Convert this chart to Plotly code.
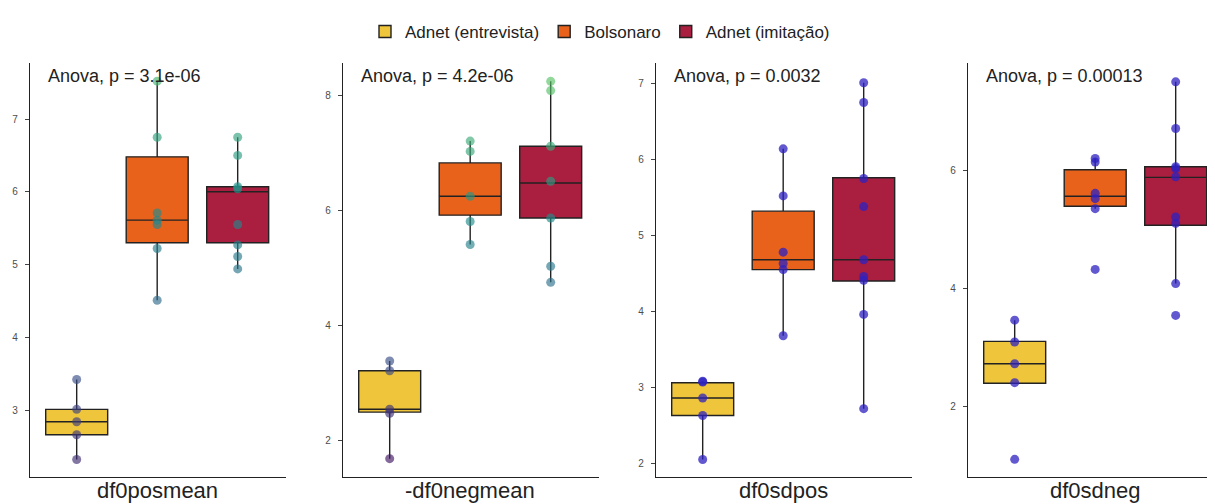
import plotly.graph_objects as go

# ---------------- data ----------------
panels = ["df0posmean", "-df0negmean", "df0sdpos", "df0sdneg"]
anova_p = ["3.1e-06", "4.2e-06", "0.0032", "0.00013"]
groups = ["Adnet (entrevista)", "Bolsonaro", "Adnet (imitação)"]

# raw points per panel, per group
pts_posmean = [[2.32, 2.66, 2.84, 3.01, 3.42],
               [4.51, 5.22, 5.55, 5.61, 5.71, 6.75, 7.52],
               [4.94, 5.11, 5.27, 5.55, 6.04, 6.07, 6.50, 6.75]]
pts_negmean = [[1.68, 2.47, 2.54, 3.21, 3.38],
               [5.41, 5.81, 6.25, 7.03, 7.21],
               [4.75, 5.03, 5.87, 6.51, 7.12, 8.09, 8.25]]
pts_sdpos = [[2.05, 2.63, 2.86, 3.07, 3.08],
             [3.68, 4.55, 4.63, 4.78, 5.52, 6.14],
             [2.72, 3.96, 4.41, 4.46, 4.68, 5.38, 5.75, 6.75, 7.01]]
pts_sdneg = [[1.11, 2.41, 2.73, 3.10, 3.47],
             [4.33, 5.36, 5.53, 5.62, 6.15, 6.21],
             [3.55, 4.09, 5.11, 5.22, 5.90, 6.04, 6.07, 6.72, 7.51]]

# box stats: [q1, median, q3, lower whisker, upper whisker] per group
box_posmean = [[2.66, 2.84, 3.01, 2.32, 3.42],
               [5.30, 5.61, 6.48, 4.51, 7.52],
               [5.30, 6.00, 6.07, 4.94, 6.75]]
box_negmean = [[2.49, 2.54, 3.21, 1.68, 3.38],
               [5.92, 6.25, 6.83, 5.41, 7.21],
               [5.87, 6.48, 7.12, 4.75, 8.25]]
box_sdpos = [[2.63, 2.86, 3.06, 2.05, 3.08],
             [4.55, 4.68, 5.32, 3.68, 6.14],
             [4.40, 4.68, 5.76, 2.72, 7.01]]
box_sdneg = [[2.40, 2.73, 3.11, 2.40, 3.47],
             [5.40, 5.57, 6.02, 5.36, 6.21],
             [5.08, 5.89, 6.07, 4.09, 7.51]]

y_ranges = [[2.08, 7.77], [1.36, 8.57], [1.82, 7.27], [0.81, 7.83]]
y_ticks = [[3, 4, 5, 6, 7], [2, 4, 6, 8], [2, 3, 4, 5, 6, 7], [2, 4, 6]]

# ---------------- style ----------------
OFF = 8                      # page body margin of the browser
W, H = 1215 - OFF, 504 - OFF
fills = ["#EEC53B", "#E8621C", "#AA1F3F"]
all_pts = [pts_posmean, pts_negmean, pts_sdpos, pts_sdneg]
all_box = [box_posmean, box_negmean, box_sdpos, box_sdneg]
px_left = [30 - OFF, 343 - OFF, 656 - OFF, 968 - OFF]
unit_px = 80.5
x0 = 0.42
top_px, bot_px = 63 - OFF, 477 - OFF
viridis = [[0, "#440154"], [0.25, "#3b528b"], [0.5, "#21918c"],
           [0.75, "#5ec962"], [1, "#fde725"]]

fig = go.Figure()
layout = dict(width=W, height=H, margin=dict(l=0, r=0, t=0, b=0, pad=0,
                                             autoexpand=False),
              plot_bgcolor="white", paper_bgcolor="white",
              font=dict(family="Liberation Sans, Arial", color="#222"),
              showlegend=True, annotations=[])

for i, name in enumerate(panels):
    ax = "" if i == 0 else str(i + 1)
    xr_right = min(px_left[i] + (3.6 - x0) * unit_px, W)
    x1 = x0 + (xr_right - px_left[i]) / unit_px
    layout["xaxis" + ax] = dict(
        domain=[px_left[i] / W, xr_right / W], range=[x0, x1],
        showline=True, linecolor="#222", linewidth=1.3, showticklabels=False,
        ticks="", showgrid=False, zeroline=False, anchor="y" + ax,
        automargin=False)
    layout["yaxis" + ax] = dict(
        domain=[1 - bot_px / H, 1 - top_px / H], range=y_ranges[i],
        tickvals=y_ticks[i], showline=True, linecolor="#222", linewidth=1.3,
        ticks="outside", ticklen=4, tickcolor="#444", tickwidth=1,
        ticklabelstandoff=5,
        tickfont=dict(size=10, color="#4d4d4d"), showgrid=False,
        zeroline=False, anchor="x" + ax, automargin=False)
    for g in range(3):
        q1, med, q3, lf, uf = all_box[i][g]
        fig.add_trace(go.Box(
            x=[g + 1], q1=[q1], median=[med], q3=[q3], lowerfence=[lf],
            upperfence=[uf], width=0.77, whiskerwidth=0, fillcolor=fills[g],
            line=dict(color="#222", width=1.4), name=groups[g],
            legendgroup=groups[g], showlegend=(i == 0), boxpoints=False,
            hoverinfo="skip", xaxis="x" + ax, yaxis="y" + ax))
    for g in range(3):
        vals = all_pts[i][g]
        if i < 2:
            marker = dict(size=9, color=vals, colorscale=viridis, cmin=1.0,
                          cmax=11.0, opacity=0.65, line=dict(width=0))
        else:
            marker = dict(size=9, color="#2E22C0", opacity=0.75,
                          line=dict(width=0))
        fig.add_trace(go.Scatter(
            x=[g + 1] * len(vals), y=vals, mode="markers", marker=marker,
            showlegend=False, hoverinfo="y", xaxis="x" + ax, yaxis="y" + ax))
    layout["annotations"].append(dict(
        text="Anova, p = " + anova_p[i], xref="paper", yref="paper",
        x=(px_left[i] + 16) / W, y=1 - (76 - OFF) / H, xanchor="left",
        yanchor="middle", showarrow=False, font=dict(size=18, color="#222")))
    layout["annotations"].append(dict(
        text=name, xref="paper", yref="paper",
        x=(px_left[i] + (2 - x0) * unit_px) / W, y=0,
        xanchor="center", yanchor="bottom", showarrow=False, borderpad=0,
        font=dict(size=22, color="#222")))

layout["legend"] = dict(orientation="h", x=(600 - OFF) / W, xanchor="center",
                        y=1 - (32 - OFF) / H, yanchor="middle",
                        font=dict(size=17, color="#222"), itemwidth=30,
                        bgcolor="rgba(0,0,0,0)", tracegroupgap=0)
fig.update_layout(**layout)
fig.write_html("out.html")
